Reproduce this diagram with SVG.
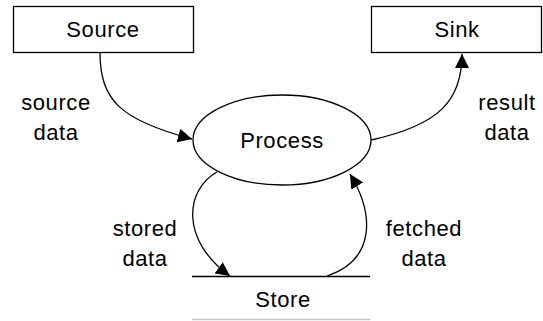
<svg xmlns="http://www.w3.org/2000/svg" width="543" height="321" viewBox="0 0 543 321">
  <style>
    .box { fill: #fff; stroke: #000; stroke-width: 1.3; }
    .flow { fill: none; stroke: #000; stroke-width: 1.3; }
    .lbl { font-family: "Liberation Sans", Arial, sans-serif; font-size: 22px; fill: #000; text-anchor: middle; letter-spacing: 0.6px; }
  </style>
  <defs>
    <marker id="arrow" viewBox="0 0 10 10" refX="10" refY="5" markerWidth="14" markerHeight="14" markerUnits="userSpaceOnUse" orient="auto">
      <path d="M0,0 L10,5 L0,10 Z" fill="#000"/>
    </marker>
  </defs>
  <rect width="543" height="321" fill="#fff"/>

  <g id="source">
    <rect class="box" x="13.5" y="6.5" width="180" height="46"/>
    <text class="lbl" x="103" y="37">Source</text>
  </g>

  <g id="sink">
    <rect class="box" x="371.5" y="6.5" width="170" height="46"/>
    <text class="lbl" x="457" y="37">Sink</text>
  </g>

  <g id="process">
    <ellipse class="box" cx="282" cy="140" rx="89" ry="45"/>
    <text class="lbl" x="282" y="148">Process</text>
  </g>

  <g id="store">
    <line x1="192" y1="276.5" x2="370" y2="276.5" stroke="#000" stroke-width="1.5"/>
    <line x1="192" y1="319.5" x2="370" y2="319.5" stroke="#c8c8c8" stroke-width="1.5"/>
    <text class="lbl" x="283" y="307">Store</text>
  </g>

  <g id="connectors">
    <path class="flow" d="M100,52 C100,100 120,120 192,139" marker-end="url(#arrow)"/>
    <path class="flow" d="M371,140 C440,125 462,100 462,54" marker-end="url(#arrow)"/>
    <path class="flow" d="M217,172 C185,190 180,240 230,276" marker-end="url(#arrow)"/>
    <path class="flow" d="M327,276 C375,260 375,215 350,174" marker-end="url(#arrow)"/>
    <text class="lbl" x="56" y="110">source</text>
    <text class="lbl" x="56" y="140">data</text>
    <text class="lbl" x="507" y="110">result</text>
    <text class="lbl" x="507" y="140">data</text>
    <text class="lbl" x="145" y="236">stored</text>
    <text class="lbl" x="145" y="266">data</text>
    <text class="lbl" x="424" y="236">fetched</text>
    <text class="lbl" x="424" y="266">data</text>
  </g>
</svg>
